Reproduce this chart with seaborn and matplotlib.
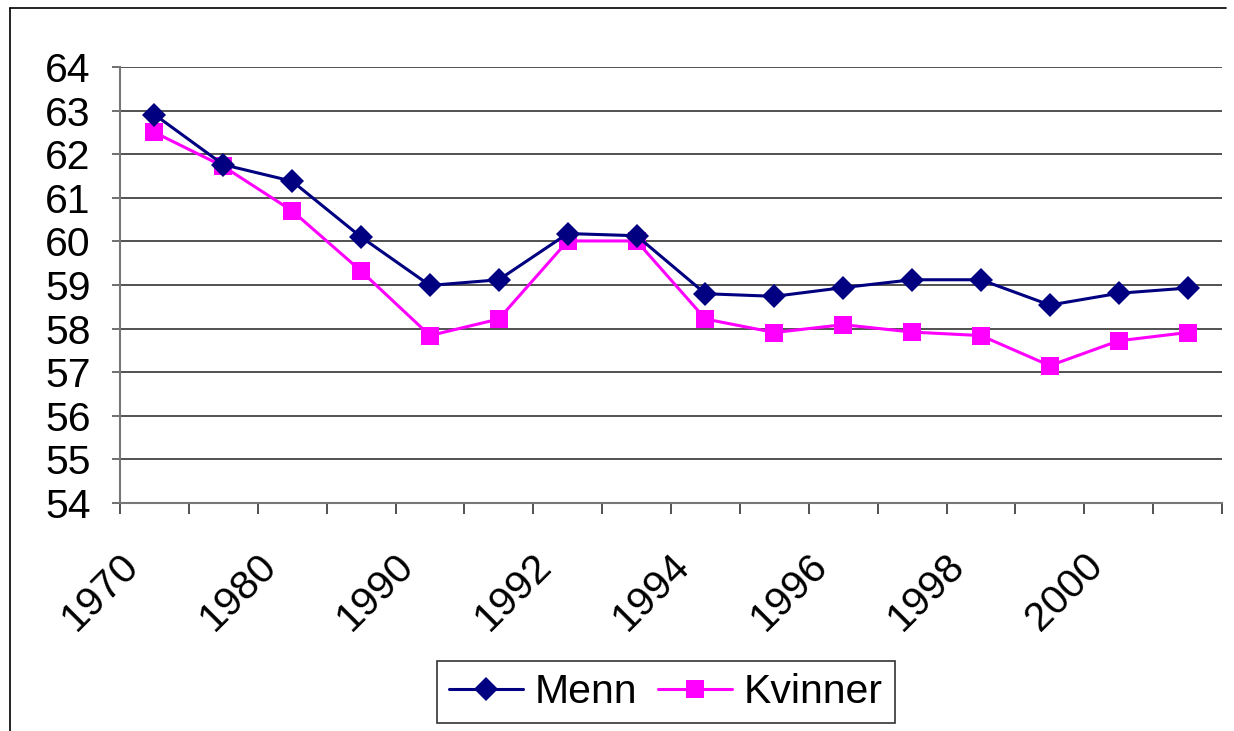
import pandas as pd
import matplotlib.pyplot as plt
import seaborn as sns
from matplotlib.transforms import ScaledTranslation
from matplotlib.lines import Line2D

# data
years = ['1970', '1975', '1980', '1985', '1990', '1991', '1992', '1993',
         '1994', '1995', '1996', '1997', '1998', '1999', '2000', '2001']
menn = [62.91, 61.76, 61.38, 60.10, 58.99, 59.12, 60.18, 60.13,
        58.80, 58.74, 58.94, 59.12, 59.12, 58.54, 58.81, 58.93]
kvinner = [62.50, 61.72, 60.70, 59.32, 57.84, 58.22, 60.01, 60.01,
           58.22, 57.91, 58.09, 57.92, 57.84, 57.15, 57.72, 57.91]
shown_labels = ['1970', '1980', '1990', '1992', '1994', '1996', '1998', '2000']

df = pd.DataFrame({
    'pos': list(range(len(years))) * 2,
    'value': menn + kvinner,
    'serie': ['Menn'] * len(years) + ['Kvinner'] * len(years),
})

sns.set_style('white')
plt.rcParams['font.family'] = ['Liberation Sans', 'DejaVu Sans']
plt.rcParams['text.color'] = 'black'
plt.rcParams['xtick.color'] = 'black'
plt.rcParams['ytick.color'] = 'black'

fig = plt.figure(figsize=(12.34, 7.31), dpi=100)
ax = fig.add_axes([120 / 1234, 1 - 503 / 731, (1222 - 120) / 1234, (503 - 67) / 731])

colors = {'Menn': '#000080', 'Kvinner': '#FF00FF'}
markers = {'Menn': 'D', 'Kvinner': 's'}
sizes = {'Menn': 12.5, 'Kvinner': 13}
for name in ['Kvinner', 'Menn']:
    sns.lineplot(data=df[df['serie'] == name], x='pos', y='value', color=colors[name],
                 marker=markers[name], markersize=sizes[name], markeredgewidth=0,
                 linewidth=2.2, ax=ax, label=name, zorder=3 if name == 'Menn' else 2)

ax.set_xlim(-0.5, len(years) - 0.5)
ax.set_ylim(54, 64)
ax.set_yticks(range(54, 65))
ax.grid(axis='y', color='#333333', linewidth=1.2)
ax.set_axisbelow(True)
ax.set_xlabel('')
ax.set_ylabel('')

for s in ['top', 'right']:
    ax.spines[s].set_visible(False)
for s in ['left', 'bottom']:
    ax.spines[s].set_color('#777777')
    ax.spines[s].set_linewidth(1.5)

ax.tick_params(axis='y', labelsize=29.5, length=6, width=1.2, color='#555555', pad=15, left=True)

# category boundary ticks
ax.set_xticks([i - 0.5 for i in range(len(years) + 1)], minor=True)
ax.tick_params(axis='x', which='minor', length=8, width=1.2, color='#333333', bottom=True, direction='out')
label_pos = [years.index(y) for y in shown_labels]
ax.set_xticks(label_pos)
ax.set_xticklabels(shown_labels, rotation=45, ha='right', va='center',
                   rotation_mode='anchor', fontsize=29.5)
ax.tick_params(axis='x', which='major', length=0, pad=0)
offset = ScaledTranslation(-0.22, -0.57, fig.dpi_scale_trans)
for lab in ax.get_xticklabels():
    lab.set_transform(lab.get_transform() + offset)

handles, labels = ax.get_legend_handles_labels()
order = [labels.index('Menn'), labels.index('Kvinner')]
leg = fig.legend([handles[i] for i in order], [labels[i] for i in order],
                 loc='center', bbox_to_anchor=(666 / 1234, 1 - 692 / 731),
                 ncol=2, fontsize=29.5, frameon=True, fancybox=False,
                 edgecolor='black', handlelength=1.8, handletextpad=0.3,
                 columnspacing=0.5, borderpad=0.3, borderaxespad=0)
leg.get_frame().set_linewidth(1.2)
if ax.get_legend():
    ax.get_legend().remove()

# chart area border (left and top edges visible)
fig.add_artist(Line2D([10 / 1234, 10 / 1234], [0, 1 - 8 / 731], color='black', linewidth=1.2))
fig.add_artist(Line2D([10 / 1234, 1226 / 1234], [1 - 8 / 731, 1 - 8 / 731], color='black', linewidth=1.2))

fig.savefig('out.png', dpi=100)
